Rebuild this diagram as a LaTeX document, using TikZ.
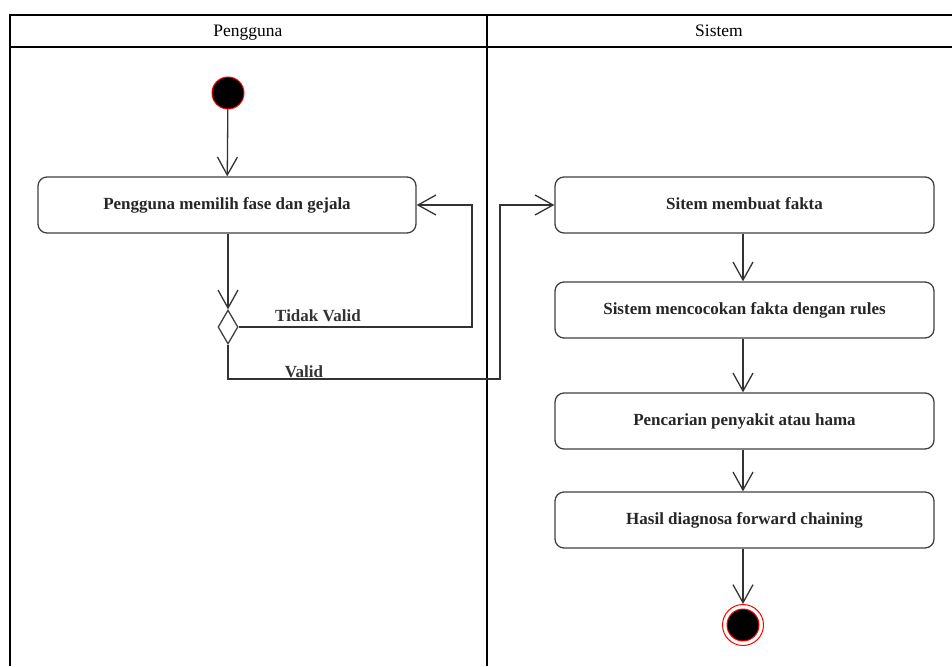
\documentclass[tikz,border=0pt]{standalone}
\usepackage{fontspec}
\setmainfont{Liberation Serif}
\usetikzlibrary{arrows.meta,shapes.geometric}
\tikzset{
  lane/.style={draw=black, line width=1.4pt},
  action/.style={draw=black!75, line width=1.3pt, rounded corners=9pt, minimum width=379pt, minimum height=56pt, font=\fontsize{17}{19}\selectfont\bfseries, text=black!85, inner sep=0pt, text height=12pt, text depth=3pt},
  flow/.style={draw=black!80, line width=1.3pt, -{Straight Barb[length=18pt,width=20pt,line width=1.3pt]}},
  startnode/.style={circle, fill=black, draw=red, line width=1pt, minimum size=32pt, inner sep=0pt},
  endnode/.style={circle, draw=red, line width=1pt, minimum size=41pt, inner sep=0pt, fill=white},
  choice/.style={diamond, draw=black!75, line width=1.3pt, minimum width=20pt, minimum height=34pt, inner sep=0pt, aspect=0.59},
  lbl/.style={font=\fontsize{17}{19}\selectfont\bfseries, text=black!80, inner sep=0pt, anchor=base},
  hdr/.style={font=\fontsize{17.5}{19}\selectfont, inner sep=0pt, anchor=base}
}
\begin{document}
\begin{tikzpicture}[x=1pt, y=-1pt]
\useasboundingbox (0,0) rectangle (952,666);
% swimlane frame
\draw[lane] (10,666) -- (10,15) -- (952,15);
\draw[lane] (10,47) -- (952,47);
\draw[lane] (487,15) -- (487,666);
\node[hdr] (hpengguna) at (248,36.5) {Pengguna};
\node[hdr] (hsistem) at (719,36.5) {Sistem};

% Pengguna lane
\node[startnode] (start) at (228,93) {};
\node[action, minimum width=378pt] (pilih) at (227,205) {Pengguna memilih fase dan gejala};
\node[choice] (cek) at (228,327) {};

% Sistem lane
\node[action] (fakta) at (744.5,205) {Sitem membuat fakta};
\node[action] (cocok) at (744.5,310) {Sistem mencocokan fakta dengan rules};
\node[action] (cari) at (744.5,421) {Pencarian penyakit atau hama};
\node[action] (hasil) at (744.5,520) {Hasil diagnosa forward chaining};
\node[endnode] (akhir) at (743,625) {};
\node[startnode] (akhirdot) at (akhir) {};

% connectors
\draw[flow] (start) -- (pilih);
\draw[flow] (pilih.south -| cek) -- (cek.north);
\draw[flow] (cek.east) -- (472,327) -- (472,205) -- (pilih.east);
\draw[flow] (cek.south) -- (228,379) -- (500,379) -- (500,205) -- (fakta.west);
\draw[flow] (fakta.south -| 743,0) -- (cocok.north -| 743,0);
\draw[flow] (cocok.south -| 743,0) -- (cari.north -| 743,0);
\draw[flow] (cari.south -| 743,0) -- (hasil.north -| 743,0);
\draw[flow] (hasil.south -| 743,0) -- (akhir.north);

\node[lbl] (tidak) at (318,321) {Tidak Valid};
\node[lbl] (valid) at (304,377) {Valid};
\end{tikzpicture}
\end{document}
